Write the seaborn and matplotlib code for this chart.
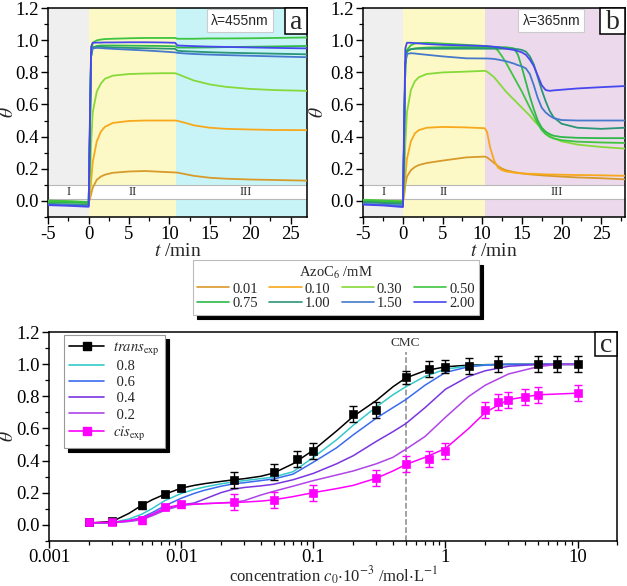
import numpy as np
import pandas as pd
import matplotlib
matplotlib.use('Agg')
import matplotlib.pyplot as plt
import seaborn as sns
from matplotlib.lines import Line2D
from matplotlib.patches import Rectangle
from matplotlib.ticker import MultipleLocator, FixedLocator, FixedFormatter, LogLocator, NullFormatter

# ---------------- data ----------------
conc_labels = ['0.01', '0.10', '0.30', '0.50', '0.75', '1.00', '1.50', '2.00']
conc_colors = ['#d89a2a', '#f7a81b', '#86d93a', '#3fc43f', '#2fb84a', '#2a9577', '#4679cc', '#4747f0']

# panel a : lambda = 455 nm
t_a = [-5, -2.5, 0, 0.15, 0.3, 0.5, 1, 1.5, 2, 3, 5, 7, 9, 10.7, 11, 12, 13, 15, 17, 20, 23, 27]
a_001 = [-0.005, -0.008, -0.01, 0.01, 0.04, 0.08, 0.13, 0.15, 0.162, 0.174, 0.182, 0.185, 0.18, 0.176, 0.175, 0.165, 0.155, 0.143, 0.137, 0.132, 0.129, 0.125]
a_010 = [-0.005, -0.008, -0.01, 0.03, 0.12, 0.24, 0.37, 0.43, 0.46, 0.485, 0.497, 0.5, 0.5, 0.5, 0.498, 0.485, 0.47, 0.455, 0.448, 0.444, 0.441, 0.44]
a_030 = [0.0, -0.005, -0.01, 0.1, 0.35, 0.55, 0.68, 0.73, 0.76, 0.78, 0.79, 0.793, 0.795, 0.795, 0.79, 0.77, 0.75, 0.725, 0.71, 0.697, 0.69, 0.685]
a_050 = [0.0, -0.003, -0.008, 0.4, 0.9, 0.985, 1.0, 1.005, 1.008, 1.01, 1.013, 1.015, 1.015, 1.015, 1.01, 1.01, 1.01, 1.012, 1.012, 1.013, 1.015, 1.018]
a_075 = [-0.01, -0.012, -0.015, 0.4, 0.9, 0.955, 0.965, 0.968, 0.968, 0.968, 0.967, 0.966, 0.965, 0.963, 0.955, 0.955, 0.955, 0.956, 0.958, 0.96, 0.962, 0.965]
a_100 = [-0.02, -0.023, -0.027, 0.45, 0.92, 0.958, 0.96, 0.96, 0.958, 0.956, 0.953, 0.951, 0.949, 0.947, 0.935, 0.932, 0.93, 0.926, 0.923, 0.92, 0.917, 0.913]
a_150 = [-0.025, -0.028, -0.033, 0.45, 0.9, 0.95, 0.953, 0.952, 0.95, 0.947, 0.942, 0.937, 0.931, 0.925, 0.922, 0.918, 0.915, 0.911, 0.908, 0.904, 0.9, 0.895]
a_200 = [-0.028, -0.032, -0.038, 0.5, 0.96, 0.985, 0.986, 0.986, 0.987, 0.987, 0.988, 0.988, 0.987, 0.985, 0.968, 0.966, 0.964, 0.961, 0.959, 0.956, 0.953, 0.95]

# panel b : lambda = 365 nm
t_b = [-5, -2.5, 0, 0.15, 0.3, 0.5, 1, 1.5, 2, 3, 5, 8, 10.3, 10.6, 11, 11.5, 12, 12.5, 13, 14, 14.5, 15, 15.5,
       16, 16.5, 17, 17.5, 18, 18.5, 19, 20, 22, 25, 28]
b_001 = [0.0, -0.002, -0.005, 0.03, 0.1, 0.15, 0.19, 0.21, 0.222, 0.235, 0.25, 0.27, 0.275, 0.27, 0.255, 0.235, 0.215, 0.2, 0.19,
         0.178, 0.174, 0.17, 0.167, 0.164, 0.162, 0.16, 0.158, 0.156, 0.155, 0.153, 0.15, 0.145, 0.14, 0.133]
b_010 = [0.0, -0.002, -0.005, 0.05, 0.15, 0.26, 0.37, 0.42, 0.44, 0.455, 0.46, 0.457, 0.452, 0.43, 0.33, 0.25, 0.205, 0.19, 0.182,
         0.175, 0.172, 0.17, 0.169, 0.168, 0.167, 0.166, 0.165, 0.164, 0.163, 0.163, 0.162, 0.16, 0.158, 0.155]
b_030 = [0.005, 0.0, -0.005, 0.1, 0.35, 0.55, 0.69, 0.745, 0.77, 0.79, 0.8, 0.805, 0.81, 0.805, 0.79, 0.77, 0.74, 0.71, 0.68,
         0.63, 0.605, 0.58, 0.555, 0.53, 0.5, 0.475, 0.45, 0.425, 0.405, 0.39, 0.37, 0.35, 0.335, 0.325]
b_050 = [0.005, 0.0, -0.005, 0.4, 0.85, 0.94, 0.97, 0.98, 0.983, 0.985, 0.98, 0.972, 0.965, 0.964, 0.962, 0.958, 0.935, 0.9, 0.86,
         0.77, 0.725, 0.68, 0.63, 0.58, 0.53, 0.48, 0.44, 0.415, 0.398, 0.388, 0.377, 0.368, 0.363, 0.36]
b_075 = [-0.005, -0.01, -0.012, 0.4, 0.85, 0.93, 0.945, 0.95, 0.952, 0.955, 0.957, 0.958, 0.958, 0.958, 0.958, 0.958, 0.958, 0.957, 0.957,
         0.95, 0.91, 0.83, 0.74, 0.65, 0.57, 0.5, 0.455, 0.43, 0.415, 0.405, 0.397, 0.392, 0.39, 0.39]
b_100 = [-0.01, -0.015, -0.02, 0.4, 0.85, 0.935, 0.945, 0.947, 0.948, 0.948, 0.948, 0.948, 0.948, 0.948, 0.948, 0.948, 0.948, 0.948, 0.948,
         0.947, 0.945, 0.94, 0.93, 0.9, 0.85, 0.77, 0.69, 0.62, 0.56, 0.52, 0.48, 0.455, 0.448, 0.455]
b_150 = [-0.02, -0.025, -0.03, 0.4, 0.85, 0.915, 0.92, 0.918, 0.915, 0.91, 0.9, 0.888, 0.887, 0.887, 0.886, 0.884, 0.88, 0.875, 0.87,
         0.855, 0.845, 0.838, 0.825, 0.79, 0.72, 0.64, 0.58, 0.55, 0.53, 0.515, 0.503, 0.5, 0.5, 0.5]
b_200 = [-0.025, -0.03, -0.04, 0.5, 0.95, 0.985, 0.985, 0.983, 0.981, 0.977, 0.972, 0.968, 0.965, 0.964, 0.962, 0.96, 0.957, 0.953, 0.948,
         0.94, 0.933, 0.925, 0.91, 0.88, 0.84, 0.78, 0.72, 0.69, 0.685, 0.688, 0.692, 0.7, 0.708, 0.715]

# panel c : adsorption curves
c_x = [0.002, 0.003, 0.004, 0.005, 0.006, 0.0075, 0.01, 0.0125, 0.015, 0.02, 0.025, 0.03, 0.04, 0.05, 0.07, 0.1,
       0.15, 0.2, 0.3, 0.4, 0.5, 0.7, 1, 1.5, 2, 3, 5, 7, 10]
fit_trans = [0.01, 0.02, 0.07, 0.12, 0.155, 0.19, 0.228, 0.245, 0.256, 0.27, 0.28, 0.287, 0.302, 0.322, 0.38, 0.465,
             0.585, 0.675, 0.775, 0.86, 0.915, 0.96, 0.985, 0.995, 0.998, 1.0, 1.0, 1.0, 1.0]
fit_08 = [0.01, 0.013, 0.035, 0.065, 0.1, 0.15, 0.195, 0.22, 0.235, 0.255, 0.267, 0.275, 0.287, 0.297, 0.33, 0.42,
          0.53, 0.62, 0.735, 0.81, 0.86, 0.925, 0.97, 0.99, 0.997, 1.0, 1.0, 1.0, 1.0]
fit_06 = [0.01, 0.012, 0.025, 0.045, 0.075, 0.118, 0.165, 0.195, 0.215, 0.24, 0.255, 0.262, 0.275, 0.285, 0.315, 0.39,
          0.48, 0.56, 0.665, 0.73, 0.78, 0.87, 0.95, 0.985, 0.995, 1.0, 1.0, 1.0, 1.0]
fit_04 = [0.01, 0.012, 0.022, 0.035, 0.06, 0.095, 0.123, 0.135, 0.16, 0.2, 0.222, 0.232, 0.242, 0.252, 0.28, 0.32,
          0.38, 0.43, 0.52, 0.58, 0.63, 0.73, 0.845, 0.925, 0.96, 0.988, 1.0, 1.0, 1.0]
fit_02 = [0.01, 0.012, 0.02, 0.03, 0.055, 0.09, 0.12, 0.127, 0.131, 0.136, 0.14, 0.15, 0.185, 0.208, 0.24, 0.275,
          0.31, 0.335, 0.38, 0.42, 0.47, 0.55, 0.67, 0.8, 0.87, 0.94, 0.985, 1.0, 1.0]
fit_cis = [0.012, 0.015, 0.025, 0.04, 0.065, 0.105, 0.125, 0.128, 0.131, 0.135, 0.138, 0.141, 0.147, 0.155, 0.175, 0.2,
           0.225, 0.245, 0.29, 0.335, 0.375, 0.42, 0.475, 0.6, 0.7, 0.78, 0.81, 0.815, 0.82]

trans_x = [0.002, 0.003, 0.005, 0.0075, 0.01, 0.025, 0.05, 0.075, 0.1, 0.2, 0.3, 0.5, 0.75, 1, 1.5, 2.5, 5, 7, 10]
trans_y = [0.015, 0.02, 0.12, 0.19, 0.23, 0.28, 0.33, 0.41, 0.46, 0.69, 0.715, 0.92, 0.97, 0.985, 0.99, 1.0, 1.005, 1.005, 1.005]
trans_err = [0.01, 0.01, 0.02, 0.02, 0.02, 0.05, 0.05, 0.05, 0.05, 0.05, 0.05, 0.04, 0.05, 0.04, 0.05, 0.05, 0.05, 0.05, 0.05]
cis_x = [0.002, 0.003, 0.005, 0.0075, 0.01, 0.025, 0.05, 0.1, 0.3, 0.5, 0.75, 1, 2, 2.5, 3, 4, 5, 10]
cis_y = [0.015, 0.015, 0.027, 0.112, 0.127, 0.14, 0.155, 0.2, 0.29, 0.38, 0.41, 0.46, 0.715, 0.767, 0.778, 0.795, 0.81, 0.82]
cis_err = [0.01, 0.01, 0.02, 0.02, 0.02, 0.05, 0.05, 0.05, 0.05, 0.05, 0.05, 0.05, 0.05, 0.05, 0.05, 0.05, 0.05, 0.05]

c_labels = ['trans', '0.8', '0.6', '0.4', '0.2', 'cis']
c_colors = ['#000000', '#33c9c9', '#3a6cf0', '#7a35e0', '#b044e6', '#ff00ff']

# ---------------- style ----------------
sns.set_theme(style='ticks')
plt.rcParams['font.family'] = ['Liberation Serif', 'DejaVu Serif']
plt.rcParams['mathtext.fontset'] = 'stix'
plt.rcParams['axes.unicode_minus'] = False

W, H = 627, 586
fig = plt.figure(figsize=(W / 100, H / 100), dpi=100)


def fax(l, t, r, b):
    return fig.add_axes([l / W, (H - b) / H, (r - l) / W, (b - t) / H])


def style_axis(ax):
    for s in ax.spines.values():
        s.set_visible(True)
        s.set_color('black')
        s.set_linewidth(1.1)
    ax.tick_params(which='major', direction='out', length=5, width=1.0, labelsize=13.5, colors='black', pad=2)
    ax.tick_params(which='minor', direction='out', length=3, width=0.9, colors='black')
    ax.set_ylim(-0.1, 1.2)
    ax.yaxis.set_major_locator(MultipleLocator(0.2))
    ax.yaxis.set_minor_locator(MultipleLocator(0.1))
    ax.yaxis.set_major_formatter(matplotlib.ticker.FormatStrFormatter('%.1f'))


def letter_box(ax, letter, wpx, hpx):
    bb = ax.get_position()
    aw = bb.width * W
    ah = bb.height * H
    fw, fh = wpx / aw, hpx / ah
    ax.add_patch(Rectangle((1 - fw, 1 - fh), fw, fh, transform=ax.transAxes, facecolor='white',
                           edgecolor='black', lw=1.1, zorder=10, clip_on=False))
    ax.text(1 - fw / 2, 1 - fh / 2 - 0.005, letter, transform=ax.transAxes, ha='center', va='center',
            fontsize=20, zorder=11)


def time_panel(ax, t, series, boundary, third_color, xmax, lam, letter, roman_pos, box_w, ylab_x):
    ax.axvspan(-5, 0, color='#efefef', lw=0, zorder=0)
    ax.axvspan(0, boundary, color='#fdf9c6', lw=0, zorder=0)
    ax.axvspan(boundary, xmax, color=third_color, lw=0, zorder=0)
    ax.axhspan(0.01, 0.10, facecolor='white', edgecolor='#b8b8b8', lw=0.8, zorder=1)
    for txt, xp in zip(['I', 'II', 'III'], roman_pos):
        ax.text(xp, 0.055, txt, ha='center', va='center', fontsize=9, zorder=2)
    rows = []
    for lab, vals in zip(conc_labels, series):
        for ti, yi in zip(t, vals):
            rows.append({'t': ti, 'theta': yi, 'conc': lab})
    df = pd.DataFrame(rows)
    sns.lineplot(data=df, x='t', y='theta', hue='conc', hue_order=conc_labels,
                 palette=dict(zip(conc_labels, conc_colors)), estimator=None, sort=False,
                 lw=1.3, legend=False, ax=ax, zorder=3)
    ax.set_xlim(-5, xmax)
    style_axis(ax)
    ax.xaxis.set_major_locator(MultipleLocator(5))
    ax.xaxis.set_minor_locator(MultipleLocator(2.5))
    ax.set_xlabel(r'$t$ /min', fontsize=14)
    ax.xaxis.set_label_coords(0.5, -0.125)
    ax.set_ylabel(r'$\theta$', fontsize=14)
    ax.yaxis.set_label_coords(ylab_x, 0.5)
    ax.text(18.7, 1.123, lam, ha='center', va='center', fontsize=10, family=['Liberation Sans', 'DejaVu Sans'],
            zorder=6, bbox=dict(boxstyle='square,pad=0.3', fc='white', ec='#cccccc', lw=0.8))
    letter_box(ax, letter, box_w, 26)


ax_a = fax(48.3, 8.3, 306.7, 216.7)
time_panel(ax_a, t_a, [a_001, a_010, a_030, a_050, a_075, a_100, a_150, a_200], 10.8, '#c8f4f8', 27,
           'λ=455nm', 'a', [-2.5, 5.4, 19.5], 22, (17 - 48.3) / 258.4)

ax_b = fax(363.3, 8.3, 625, 216.7)
time_panel(ax_b, t_b, [b_001, b_010, b_030, b_050, b_075, b_100, b_150, b_200], 10.4, '#ecdaec', 28,
           'λ=365nm', 'b', [-2.4, 5.1, 19.4], 25, (327 - 363.3) / 261.7)

# middle legend (row-major order for 4 columns x 2 rows)
order = [0, 4, 1, 5, 2, 6, 3, 7]
handles = [Line2D([], [], color=conc_colors[i], lw=1.2) for i in order]
leg = fig.legend(handles, [conc_labels[i] for i in order], loc='center',
                 bbox_to_anchor=(336 / W, (H - 287.5) / H), ncol=4,
                 title=r'AzoC$_6$ /mM', fontsize=10.5, title_fontsize=10.5, handlelength=2.2, handletextpad=0.2,
                 columnspacing=0.8, labelspacing=0.1, borderpad=0.3, frameon=True, fancybox=False,
                 shadow={'ox': 3, 'oy': -3, 'facecolor': 'black', 'edgecolor': 'black', 'alpha': 1})
leg.get_frame().set_edgecolor('#bbbbbb')
leg.get_frame().set_linewidth(0.8)

# panel c
ax_c = fax(49.3, 332.3, 617.3, 540.7)
rows = []
for lab, vals in zip(c_labels, [fit_trans, fit_08, fit_06, fit_04, fit_02, fit_cis]):
    for xi, yi in zip(c_x, vals):
        rows.append({'c': xi, 'theta': yi, 'curve': lab})
dfc = pd.DataFrame(rows)
sns.lineplot(data=dfc, x='c', y='theta', hue='curve', hue_order=c_labels,
             palette=dict(zip(c_labels, c_colors)), estimator=None, sort=False, lw=1.1,
             legend=False, ax=ax_c, zorder=3)
ax_c.errorbar(trans_x, trans_y, yerr=trans_err, fmt='none', ecolor='black', elinewidth=1.0, capsize=3,
              capthick=1.0, zorder=4)
ax_c.errorbar(cis_x, cis_y, yerr=cis_err, fmt='none', ecolor='#ff00ff', elinewidth=1.0, capsize=3,
              capthick=1.0, zorder=4)
sns.scatterplot(x=trans_x, y=trans_y, marker='s', color='black', edgecolor='black', s=36, ax=ax_c, zorder=5)
sns.scatterplot(x=cis_x, y=cis_y, marker='s', color='#ff00ff', edgecolor='#ff00ff', s=36, ax=ax_c, zorder=5)
ax_c.set_xscale('log')
ax_c.set_xlim(0.001, 20)
style_axis(ax_c)
ax_c.tick_params(axis='x', which='major', pad=1)
ax_c.xaxis.set_major_locator(FixedLocator([0.001, 0.01, 0.1, 1, 10]))
ax_c.xaxis.set_major_formatter(FixedFormatter(['0.001', '0.01', '0.1', '1', '10']))
ax_c.xaxis.set_minor_locator(LogLocator(base=10, subs=np.arange(2, 10) * 1.0, numticks=20))
ax_c.xaxis.set_minor_formatter(NullFormatter())
ax_c.axvline(0.5, ymin=0, ymax=(1.08 + 0.1) / 1.3, color='#888888', ls='--', lw=1.1, zorder=2)
ax_c.text(0.5, 1.135, 'CMC', ha='center', va='center', fontsize=9.5, color='#333333')
ax_c.set_xlabel(r'concentration $c_{\mathit{0}}$$\cdot$10$^{-3}$ /mol$\cdot$L$^{-1}$', fontsize=12)
ax_c.xaxis.set_label_coords(0.5, (540.7 - 565) / 208.4)
ax_c.set_ylabel(r'$\theta$', fontsize=14)
ax_c.yaxis.set_label_coords((17 - 49.3) / 568, 0.5)
letter_box(ax_c, 'c', 22, 24)

c_handles = [Line2D([], [], color='black', lw=1.2, marker='s', ms=6),
             Line2D([], [], color=c_colors[1], lw=1.2),
             Line2D([], [], color=c_colors[2], lw=1.2),
             Line2D([], [], color=c_colors[3], lw=1.2),
             Line2D([], [], color=c_colors[4], lw=1.2),
             Line2D([], [], color='#ff00ff', lw=1.2, marker='s', ms=6)]
c_leg_labels = [r'$\mathit{trans}_{\mathrm{exp}}$', ' 0.8', ' 0.6', ' 0.4', ' 0.2', r'$\mathit{cis}_{\mathrm{exp}}$']
legc = ax_c.legend(c_handles, c_leg_labels, loc='upper left', bbox_to_anchor=((64 - 49.3) / 568, (540.7 - 335) / 208.4),
                   borderaxespad=0, fontsize=10.5, handlelength=2.4, handletextpad=0.6, labelspacing=0.2,
                   borderpad=0.35, frameon=True, fancybox=False,
                   shadow={'ox': 3, 'oy': -3, 'facecolor': 'black', 'edgecolor': 'black', 'alpha': 1})
legc.get_frame().set_edgecolor('#999999')
legc.get_frame().set_linewidth(0.8)

fig.savefig('out.png', dpi=100)
